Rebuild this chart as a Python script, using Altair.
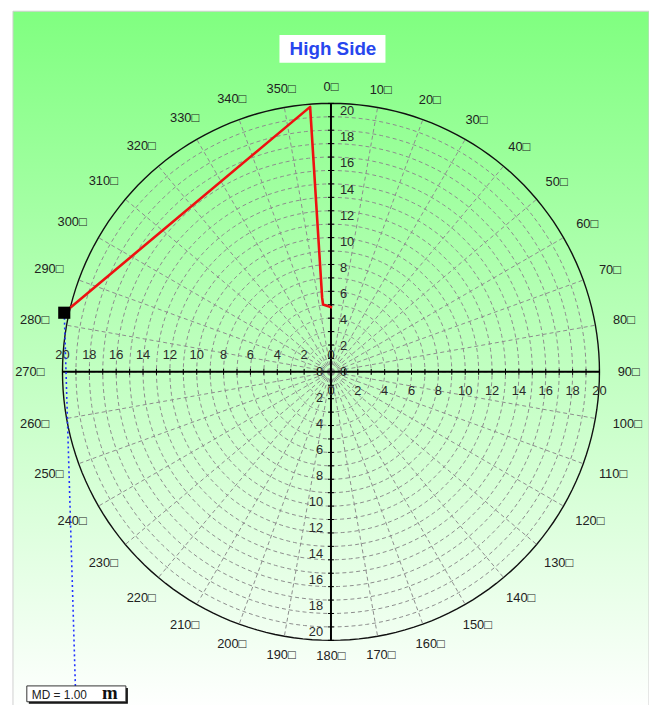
import altair as alt
import pandas as pd

# ---------------- data ----------------
TITLE = "High Side"
RING_RADII = [1, 2, 3, 4, 5, 6, 7, 8, 9, 10, 11, 12, 13, 14, 15, 16, 17, 18, 19]
OUTER_RADIUS = 20
SPOKE_ANGLES = [0, 10, 20, 30, 40, 50, 60, 70, 80, 90, 100, 110, 120, 130, 140, 150, 160, 170,
                180, 190, 200, 210, 220, 230, 240, 250, 260, 270, 280, 290, 300, 310, 320, 330, 340, 350]
ANGLE_TICKS = SPOKE_ANGLES
ANGLE_LABELS = ["0□", "10□", "20□", "30□", "40□", "50□", "60□", "70□", "80□", "90□",
                "100□", "110□", "120□", "130□", "140□", "150□", "160□", "170□", "180□",
                "190□", "200□", "210□", "220□", "230□", "240□", "250□", "260□", "270□",
                "280□", "290□", "300□", "310□", "320□", "330□", "340□", "350□"]
AXIS_VALUES = [0, 2, 4, 6, 8, 10, 12, 14, 16, 18, 20]
AXIS_TICKS = [-20, -19, -18, -17, -16, -15, -14, -13, -12, -11, -10, -9, -8, -7, -6, -5, -4, -3, -2, -1,
              1, 2, 3, 4, 5, 6, 7, 8, 9, 10, 11, 12, 13, 14, 15, 16, 17, 18, 19, 20]
CIRCLE_STEPS = list(range(0, 361, 2))  # drawing resolution of the circles (degrees)

PATH_R = [4.8, 5.05, 5.55, 19.8, 20.35]
PATH_THETA = [1.0, 353.3, 353.2, 355.5, 282.5]
MD_TEXT = "MD = 1.00"
MD_UNIT = "m"

# ---------------- layout ----------------
W, H = 642, 697
CX, CY = 321, 364          # centre of the polar plot inside the view (px)
RPX = 271                  # px for the outer radius
K = RPX / OUTER_RADIUS     # px per unit
VLABEL_SCALE = 0.97        # vertical axis labels are spaced slightly tighter

xs = alt.Scale(domain=[-CX / K, (W - CX) / K], nice=False, zero=False)
ys = alt.Scale(domain=[-(H - CY) / K, CY / K], nice=False, zero=False)

FONT = "Liberation Sans"
DEG = "PI/180"

one_row = pd.DataFrame({"k": [0]})

# background gradient panel
bg = alt.Chart(one_row).mark_rect(
    fill=alt.Gradient(gradient="linear",
                      stops=[alt.GradientStop(color="#80ff80", offset=0),
                             alt.GradientStop(color="#ffffff", offset=1)],
                      x1=0, x2=0, y1=0, y2=1),
    stroke="#cfcfcf", strokeWidth=1,
).encode(x=alt.value(0), x2=alt.value(W), y=alt.value(0), y2=alt.value(H + 10))

# grid rings
ring_df = pd.DataFrame([(r, a) for r in RING_RADII for a in CIRCLE_STEPS], columns=["r", "a"])
rings = alt.Chart(ring_df).transform_calculate(
    x=f"datum.r*sin(datum.a*{DEG})", y=f"datum.r*cos(datum.a*{DEG})"
).mark_line(color="#8c8c8c", strokeWidth=1, strokeDash=[4, 3]).encode(
    x=alt.X("x:Q", scale=xs, axis=None),
    y=alt.Y("y:Q", scale=ys, axis=None),
    detail="r:N", order="a:Q")

# spokes
spoke_df = pd.DataFrame({"a": SPOKE_ANGLES})
spokes = alt.Chart(spoke_df).transform_calculate(
    x0="0", y0="0",
    x1=f"{OUTER_RADIUS}*sin(datum.a*{DEG})", y1=f"{OUTER_RADIUS}*cos(datum.a*{DEG})"
).mark_rule(color="#8c8c8c", strokeWidth=1, strokeDash=[4, 3]).encode(
    x=alt.X("x0:Q", scale=xs, axis=None), y=alt.Y("y0:Q", scale=ys, axis=None),
    x2="x1:Q", y2="y1:Q")

# outer circle
outer_df = pd.DataFrame({"a": CIRCLE_STEPS, "r": OUTER_RADIUS})
outer = alt.Chart(outer_df).transform_calculate(
    x=f"datum.r*sin(datum.a*{DEG})", y=f"datum.r*cos(datum.a*{DEG})"
).mark_line(color="#111111", strokeWidth=1.4).encode(
    x=alt.X("x:Q", scale=xs, axis=None), y=alt.Y("y:Q", scale=ys, axis=None), order="a:Q")

# main axes
axes_df = pd.DataFrame({"x0": [-OUTER_RADIUS, 0], "y0": [0, -OUTER_RADIUS],
                        "x1": [OUTER_RADIUS, 0], "y1": [0, OUTER_RADIUS]})
axes = alt.Chart(axes_df).mark_rule(color="#000000", strokeWidth=2).encode(
    x=alt.X("x0:Q", scale=xs, axis=None), y=alt.Y("y0:Q", scale=ys, axis=None),
    x2="x1:Q", y2="y1:Q")

# axis ticks
tick_df = pd.DataFrame({"u": AXIS_TICKS})
hticks = alt.Chart(tick_df).transform_calculate(ya="-0.22", yb="0.22").mark_rule(
    color="#000000", strokeWidth=1).encode(
    x=alt.X("u:Q", scale=xs, axis=None), y=alt.Y("ya:Q", scale=ys, axis=None), y2="yb:Q")
vticks = alt.Chart(tick_df).transform_calculate(xa="-0.22", xb="0.22").mark_rule(
    color="#000000", strokeWidth=1).encode(
    y=alt.Y("u:Q", scale=ys, axis=None), x=alt.X("xa:Q", scale=xs, axis=None), x2="xb:Q")

# axis labels
lab_df = pd.DataFrame({"v": AXIS_VALUES})
lab_style = dict(font=FONT, fontSize=13, color="#2a2a2a", baseline="middle")


def axis_labels(xexpr, yexpr, **kw):
    return alt.Chart(lab_df).transform_calculate(x=xexpr, y=yexpr).mark_text(
        **lab_style, **kw).encode(
        x=alt.X("x:Q", scale=xs, axis=None), y=alt.Y("y:Q", scale=ys, axis=None),
        text="v:Q")


lab_top = axis_labels("0", f"datum.v*{VLABEL_SCALE}", align="left", dx=9)
lab_bot = axis_labels("0", f"-datum.v*{VLABEL_SCALE}", align="right", dx=-8)
lab_left = axis_labels("-datum.v", "0", align="center", dy=-17)
lab_right = axis_labels("datum.v", "0", align="center", dy=19)

# angle labels
ang_df = pd.DataFrame({"t": ANGLE_TICKS, "label": ANGLE_LABELS})
ang = alt.Chart(ang_df).transform_calculate(
    rl=f"21.18 + (3.5*length(datum.label)+3)/{K}*abs(sin(datum.t*{DEG}))"
).transform_calculate(
    x=f"datum.rl*sin(datum.t*{DEG})", y=f"datum.rl*cos(datum.t*{DEG})"
).mark_text(font=FONT, fontSize=13, color="#222222", align="center", baseline="middle").encode(
    x=alt.X("x:Q", scale=xs, axis=None), y=alt.Y("y:Q", scale=ys, axis=None), text="label:N")

# red path
path_df = pd.DataFrame({"i": list(range(len(PATH_R))), "r": PATH_R, "t": PATH_THETA})
path_base = alt.Chart(path_df).transform_calculate(
    x=f"datum.r*sin(datum.t*{DEG})", y=f"datum.r*cos(datum.t*{DEG})")
path = path_base.mark_line(color="#ee1111", strokeWidth=2.6, strokeJoin="round").encode(
    x=alt.X("x:Q", scale=xs, axis=None), y=alt.Y("y:Q", scale=ys, axis=None), order="i:Q")

last_df = path_df.tail(1)
last_base = alt.Chart(last_df).transform_calculate(
    x=f"datum.r*sin(datum.t*{DEG})", y=f"datum.r*cos(datum.t*{DEG})")
leader = last_base.mark_rule(color="#2030ff", strokeWidth=1.6, strokeDash=[2, 3]).encode(
    x=alt.X("x:Q", scale=xs, axis=None), y=alt.Y("y:Q", scale=ys, axis=None),
    x2=alt.value(63), y2=alt.value(681))
square = last_base.mark_square(color="#000000", size=150, opacity=1).encode(
    x=alt.X("x:Q", scale=xs, axis=None), y=alt.Y("y:Q", scale=ys, axis=None))

# title box
title_box = alt.Chart(one_row).mark_rect(fill="#ffffff").encode(
    x=alt.value(269), x2=alt.value(376), y=alt.value(24), y2=alt.value(52))
title_txt = alt.Chart(one_row).mark_text(
    text=TITLE, font=FONT, fontSize=19, fontWeight="bold", color="#2846ee",
    align="center", baseline="middle").encode(x=alt.value(323), y=alt.value(38))

# MD box
md_shadow = alt.Chart(one_row).mark_rect(fill="#111111").encode(
    x=alt.value(16), x2=alt.value(116), y=alt.value(683), y2=alt.value(699))
md_box = alt.Chart(one_row).mark_rect(fill="#ffffff", stroke="#333333", strokeWidth=1).encode(
    x=alt.value(14), x2=alt.value(114), y=alt.value(681), y2=alt.value(697))
md_txt = alt.Chart(one_row).mark_text(
    text=MD_TEXT, font=FONT, fontSize=12, color="#222222", align="left", baseline="middle").encode(
    x=alt.value(19), y=alt.value(690))
md_unit = alt.Chart(one_row).mark_text(
    text=MD_UNIT, font="Liberation Serif", fontSize=19, fontWeight="bold", color="#111111",
    align="left", baseline="middle").encode(x=alt.value(90), y=alt.value(688))

chart = alt.layer(
    bg, rings, spokes, outer, axes, hticks, vticks,
    lab_top, lab_bot, lab_left, lab_right, ang,
    leader, path, square, title_box, title_txt,
    md_shadow, md_box, md_txt, md_unit,
).properties(
    width=W, height=H,
    padding={"left": 5, "top": 0, "right": 0, "bottom": 0},
    autosize=alt.AutoSizeParams(type="none"),
).configure_view(stroke=None)

chart.save("out.html", embed_options={"renderer": "svg", "actions": False})
